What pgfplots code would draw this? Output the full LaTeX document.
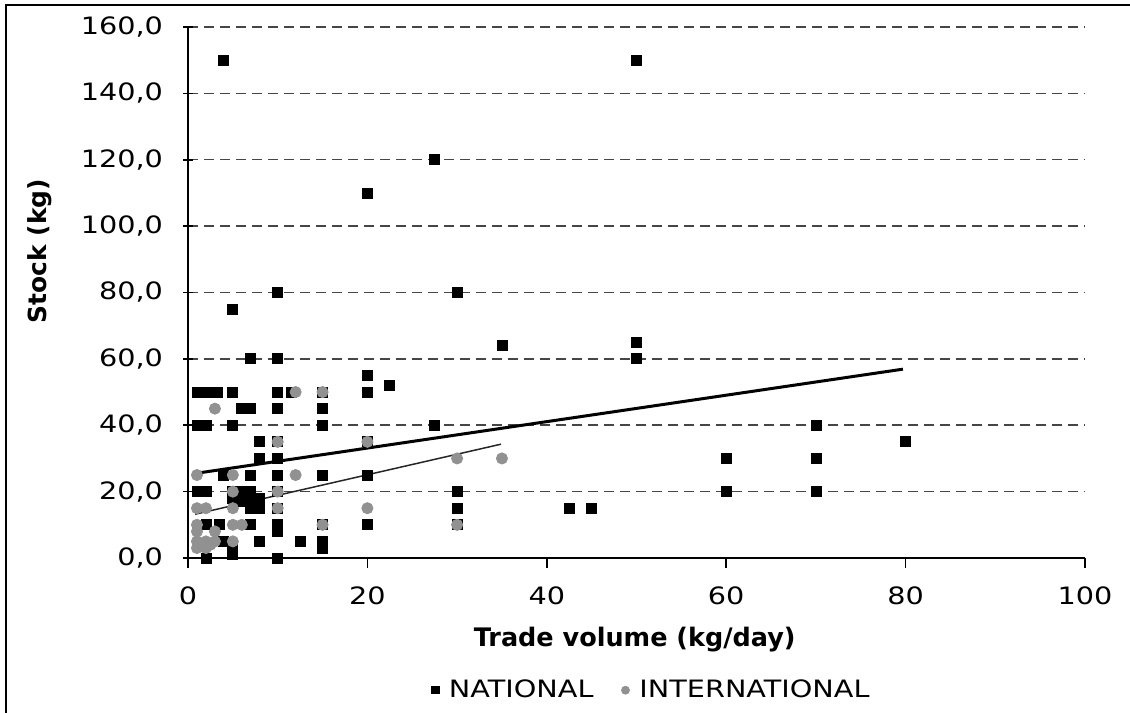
\documentclass[border=0pt]{standalone}
\usepackage{fontspec}
\setmainfont{DejaVu Sans}[FakeStretch=1.2]
\newfontfamily\ylfont{DejaVu Sans}
\usepackage{pgfplots}
\pgfplotsset{compat=1.18}
\definecolor{intl}{RGB}{145,145,145}
\definecolor{gridc}{RGB}{70,70,70}
\begin{document}
\begin{tikzpicture}
\useasboundingbox (0,0) rectangle (565bp,356.5bp);
\draw[line width=1bp] (3bp,-1bp) -- (3bp,354bp) -- (566bp,354bp);
\begin{axis}[
  scale only axis, width=448.5bp, height=265.5bp,
  at={(94bp,77.5bp)}, anchor=south west,
  xmin=0, xmax=100, ymin=0, ymax=160,
  clip=false,
  axis x line*=bottom, axis y line*=left,
  axis line style={-, line width=0.8bp, black},
  xtick={0,20,40,60,80,100}, ytick={0,20,...,160},
  tick align=outside, major tick length=5bp,
  tick style={line width=0.8bp, black},
  ytick style={xshift=2.5bp},
  ymajorgrids,
  major grid style={dash pattern=on 5bp off 3bp, line width=0.75bp, gridc},
  /pgf/number format/assume math mode=true,
  ticklabel style={font=\fontsize{12}{14}\selectfont},
  yticklabel style={/pgf/number format/fixed, /pgf/number format/fixed zerofill, /pgf/number format/precision=1, /pgf/number format/use comma, xshift=-4bp},
  xticklabel style={yshift=-6bp},
  xlabel={Trade volume (kg/day)},
  ylabel={Stock (kg)},
  xlabel style={at={(axis description cs:0.498,-0.154)}, anchor=center, font=\ylfont\bfseries\fontsize{12.8}{15}\selectfont},
  ylabel style={at={(axis description cs:-0.165,0.578)}, anchor=center, font=\ylfont\bfseries\fontsize{12.5}{14}\selectfont},
  legend style={at={(0.518,-0.249)}, anchor=center, draw=none, legend columns=2, font=\fontsize{12}{14}\selectfont, /tikz/every even column/.append style={column sep=12bp}},
  legend cell align=left,
]
% NATIONAL
\addplot[only marks, mark=square*, mark size=2.5bp, black, forget plot] coordinates {
(4,150) (50,150) (27.5,120) (20,110) (10,80) (30,80) (5,75) (35,64) (50,65) (50,60) (7,60) (10,60) (20,55) (22.5,52)
(1,50) (2,50) (3.3,50) (5,50) (10,50) (11.5,50) (15,50) (20,50)
(6,45) (7,45) (10,45) (15,45)
(1,40) (2,40) (5,40) (15,40) (27.5,40) (70,40)
(8,35) (10,35) (20,35) (80,35)
(8,30) (10,30) (60,30) (70,30)
(4,25) (7,25) (10,25) (15,25) (20,25)
(1,20) (2,20) (5,20) (6,20) (7,20) (10,20) (30,20) (60,20) (70,20)
(5,18) (7,18) (8,18) (6,17) (7,16) (8,16) (7,15) (8,15) (10,15) (30,15) (42.5,15) (45,15)
(2,10) (3.5,10) (7,10) (10,10) (15,10) (20,10) (30,10) (10,8)
(4,5) (8,5) (12.5,5) (15,5) (15,3) (5,3)
(2,0) (5,1) (10,0)
};
% INTERNATIONAL
\addplot[only marks, mark=*, mark size=2.8bp, intl, mark options={draw=intl, fill=intl}, forget plot] coordinates {
(12,50) (15,50) (3,45) (10,35) (20,35) (1,25) (5,25) (12,25) (30,30) (35,30)
(5,20) (10,20) (1,15) (2,15) (5,15) (10,15) (20,15)
(1,10) (5,10) (6,10) (15,10) (30,10) (1,8) (3,8)
(1,5) (1.5,4) (2,3) (2.5,4) (3,5) (5,5) (1,3) (2,5)
};
% trend lines
\addplot[black, line width=1.5bp, forget plot] coordinates {(0.6,25.4) (79.7,56.9)};
\addplot[black!85, line width=0.75bp, forget plot] coordinates {(0.8,13.2) (34.9,34.3)};
\addlegendimage{only marks, mark=square*, mark size=1.8bp, black}
\addlegendentry{\hspace{3bp}NATIONAL}
\addlegendimage{only marks, mark=*, mark size=2bp, intl, mark options={draw=intl, fill=intl}}
\addlegendentry{\hspace{3bp}INTERNATIONAL}
\end{axis}
\end{tikzpicture}
\end{document}
